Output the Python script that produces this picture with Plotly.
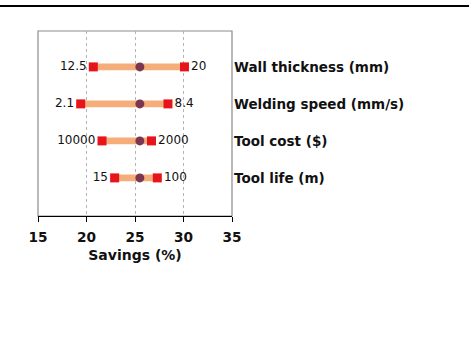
import plotly.graph_objects as go

# Sensitivity of savings to each input parameter
params = ["Wall thickness (mm)", "Welding speed (mm/s)", "Tool cost ($)", "Tool life (m)"]
low_labels = ["12.5", "2.1", "10000", "15"]
high_labels = ["20", "8.4", "2000", "100"]
low_savings = [20.7, 19.4, 21.6, 22.9]
high_savings = [30.1, 28.4, 26.7, 27.3]
base_savings = [25.5, 25.5, 25.5, 25.5]
x_ticks = [15, 20, 25, 30, 35]

FONT = "DejaVu Sans, Liberation Sans, Arial, sans-serif"
rows = list(range(len(params)))

fig = go.Figure()

# range bars between low and high savings
fig.add_trace(go.Bar(
    y=rows, x=[h - l for l, h in zip(low_savings, high_savings)], base=low_savings,
    orientation="h", width=0.18, marker=dict(color="#F5AD7A", line=dict(width=0)),
    hoverinfo="skip", showlegend=False,
))

# low-end markers with their parameter values
fig.add_trace(go.Scatter(
    y=rows, x=low_savings, mode="markers+text", text=low_labels,
    textposition="middle left", textfont=dict(family=FONT, size=12, color="#111"),
    marker=dict(symbol="square", size=9, color="#E8141B"), showlegend=False,
))

# high-end markers with their parameter values
fig.add_trace(go.Scatter(
    y=rows, x=high_savings, mode="markers+text", text=high_labels,
    textposition="middle right", textfont=dict(family=FONT, size=12, color="#111"),
    marker=dict(symbol="square", size=9, color="#E8141B"), showlegend=False,
))

# base case
fig.add_trace(go.Scatter(
    y=rows, x=base_savings, mode="markers",
    marker=dict(symbol="circle", size=9, color="#7B3650"), showlegend=False,
))

# parameter names to the right of the plot
for r, name in zip(rows, params):
    fig.add_annotation(
        x=1, xref="paper", y=r, yref="y", xanchor="left", xshift=0,
        text=f"<b>{name}</b>", showarrow=False,
        font=dict(family=FONT, size=13.5, color="#111"),
    )

W, H = 469, 338
ml, mr, mt, mb = 38, 237, 31, 122
pw = W - ml - mr
ph = H - mt - mb

shapes = [
    # plot frame
    dict(type="rect", xref="paper", yref="paper", x0=0, x1=1, y0=0, y1=1,
         line=dict(color="#8c8c8c", width=1.2), layer="below"),
    # rule across the top of the page
    dict(type="line", xref="paper", yref="paper",
         x0=-ml / pw, x1=(W - ml) / pw, y0=1 + (mt - 6) / ph, y1=1 + (mt - 6) / ph,
         line=dict(color="#000", width=2)),
]

fig.update_layout(
    width=W, height=H,
    margin=dict(l=ml, r=mr, t=mt, b=mb),
    paper_bgcolor="white", plot_bgcolor="white",
    barmode="overlay",
    shapes=shapes,
    xaxis=dict(
        range=[15, 35], tickvals=x_ticks, ticktext=[f"<b>{v}</b>" for v in x_ticks],
        tickfont=dict(family=FONT, size=13.7, color="#111"),
        ticklabelstandoff=3,
        showline=True, linecolor="#000", linewidth=1.2,
        ticks="outside", ticklen=5, tickcolor="#000",
        showgrid=True, gridcolor="#b4b4b4", griddash="dot", gridwidth=1,
        zeroline=False,
        title=dict(text="<b>Savings (%)</b>", font=dict(family=FONT, size=14, color="#111"), standoff=6),
    ),
    yaxis=dict(
        range=[4.03, -0.97], showticklabels=False, showgrid=False, zeroline=False,
        showline=False,
    ),
)

fig.write_html("out.html")
